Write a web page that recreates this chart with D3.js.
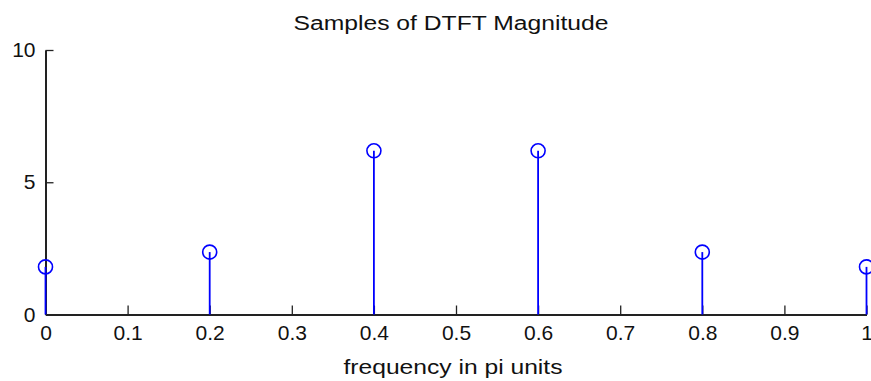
<!DOCTYPE html>
<html><head><meta charset="utf-8">
<script src="https://cdn.jsdelivr.net/npm/d3@7"></script>
<style>body{margin:0;background:#fff}svg{display:block}text{font-family:"Liberation Sans",Arial,sans-serif;fill:#111}</style>
</head><body>
<script>
const freqs = [0, 0.2, 0.4, 0.6, 0.8, 1.0];
const magnitudes = [1.8, 2.36, 6.19, 6.19, 2.36, 1.8];
const xTicks = [0, 0.1, 0.2, 0.3, 0.4, 0.5, 0.6, 0.7, 0.8, 0.9, 1];
const xTickLabels = ["0","0.1","0.2","0.3","0.4","0.5","0.6","0.7","0.8","0.9","1"];
const yTicks = [0, 5, 10];
const titleText = "Samples of DTFT Magnitude";
const xLabelText = "frequency in pi units";

const W = 871, H = 381;
const svg = d3.select("body").append("svg").attr("width", W).attr("height", H);
const x = d3.scaleLinear().domain([0, 1]).range([45.5, 866.5]);
const y = d3.scaleLinear().domain([0, 10]).range([314.5, 50]);

const axisColor = "#222";
// x axis
const gx = svg.append("g").attr("transform", `translate(0,${y(0)})`)
  .call(d3.axisBottom(x).tickValues(xTicks).tickFormat((d,i)=>xTickLabels[i]).tickSizeInner(-9).tickSizeOuter(0).tickPadding(10));
gx.select(".domain").attr("stroke", axisColor).attr("stroke-width", 2);
gx.selectAll(".tick line").attr("stroke", axisColor).attr("stroke-width", 1.3);
gx.selectAll(".tick text").attr("font-size", 21).attr("fill", "#111").attr("dy", "0.72em")
  .attr("font-family", '"Liberation Sans",Arial,sans-serif');

// y axis
const gy = svg.append("g").attr("transform", `translate(${x(0)},0)`)
  .call(d3.axisLeft(y).tickValues(yTicks).tickFormat(d3.format("d")).tickSizeInner(-8).tickSizeOuter(0).tickPadding(10));
gy.select(".domain").attr("stroke", axisColor).attr("stroke-width", 2);
gy.selectAll(".tick line").attr("stroke", axisColor).attr("stroke-width", 1.3);
gy.selectAll(".tick text").attr("font-size", 21).attr("fill", "#111")
  .attr("font-family", '"Liberation Sans",Arial,sans-serif');

// stems
svg.append("g").selectAll("line").data(freqs).join("line")
  .attr("x1", d => x(d)).attr("x2", d => x(d))
  .attr("y1", y(0)).attr("y2", (d,i) => y(magnitudes[i]))
  .attr("stroke", "#0000ff").attr("stroke-width", 1.8);
svg.append("g").selectAll("circle").data(freqs).join("circle")
  .attr("cx", d => x(d)).attr("cy", (d,i) => y(magnitudes[i])).attr("r", 7)
  .attr("fill", "none").attr("stroke", "#0000ff").attr("stroke-width", 1.6);

// title
svg.append("text").attr("x", 451).attr("y", 30).attr("text-anchor", "middle")
  .attr("font-size", 20).attr("textLength", 315).attr("lengthAdjust", "spacingAndGlyphs").text(titleText);
// x label
svg.append("text").attr("x", 453).attr("y", 374).attr("text-anchor", "middle")
  .attr("font-size", 21).attr("textLength", 219).attr("lengthAdjust", "spacingAndGlyphs").text(xLabelText);
</script>
</body></html>
